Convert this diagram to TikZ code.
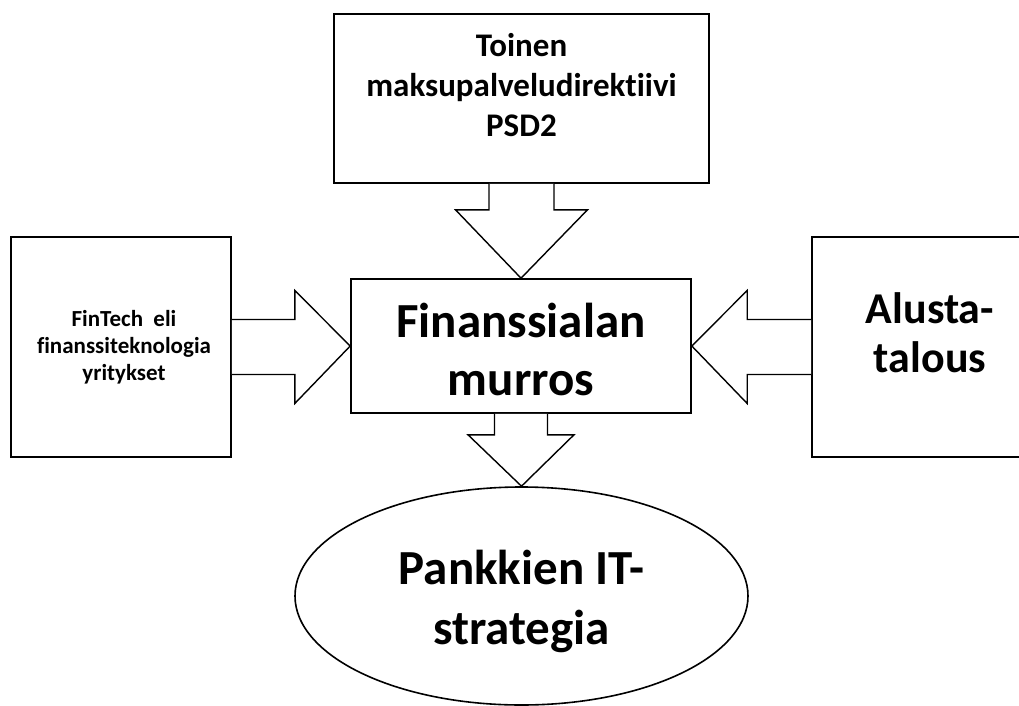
\documentclass[tikz,border=0pt]{standalone}
\usepackage{fontspec}
\setmainfont{Carlito}[RawFeature={-liga;-clig;-dlig}]
\usetikzlibrary{calc,shapes.geometric}
\begin{document}
\begin{tikzpicture}[x=1pt,y=-1pt,
  box/.style={draw=black,line width=1.6pt,fill=white,rectangle,inner sep=0pt},
  oval/.style={draw=black,line width=1.6pt,fill=white,ellipse,inner sep=0pt},
  blockarrow/.style={draw=black,line width=1.4pt,fill=white,line join=miter},
  txt/.style={align=center,font=\bfseries,inner sep=0pt}]
\useasboundingbox (0,0) rectangle (1019,706);
\clip (0,0) rectangle (1019,706);
% boxes
\node[box,minimum width=375pt,minimum height=169pt] (top) at (521.5,98.5) {};
\node[box,minimum width=340pt,minimum height=134pt] (mid) at (521,346) {};
\node[box,minimum width=220pt,minimum height=220pt] (left) at (121,347) {};
\node[box,minimum width=220pt,minimum height=220pt] (right) at (922,347) {};
\node[oval,minimum width=453pt,minimum height=218pt] (ell) at (521.5,596) {};
% block arrows
\draw[blockarrow] ($(top.south)+(-32.5,0)$) -- ++(0,26) -- ++(-33.5,0) -- (mid.north)
  -- ($(top.south)+(66,26)$) -- ++(-33.5,0) -- ($(top.south)+(32.5,0)$);
\draw[blockarrow] ($(left.east)+(0,-27.5)$) -- ++(63,0) -- ++(0,-29) -- (mid.west)
  -- ($(left.east)+(63,56.5)$) -- ++(0,-29) -- ($(left.east)+(0,27.5)$);
\draw[blockarrow] ($(right.west)+(0,-27.5)$) -- ++(-64,0) -- ++(0,-29) -- (mid.east)
  -- ($(right.west)+(-64,56.5)$) -- ++(0,-29) -- ($(right.west)+(0,27.5)$);
\draw[blockarrow] ($(mid.south)+(-26.5,0)$) -- ++(0,21) -- ++(-26.5,0) -- (ell.north)
  -- ($(mid.south)+(53,21)$) -- ++(-26.5,0) -- ($(mid.south)+(26.5,0)$);
% texts
\node[txt,font=\fontsize{33}{40}\selectfont\bfseries] (toptext) at ($(top.center)+(0,-13)$)
  {Toinen\\maksupalveludirektiivi\\PSD2};
\node[txt,font=\fontsize{49}{58}\selectfont\bfseries] (midtext) at ($(mid.center)+(0,3)$)
  {Finanssialan\\murros};
\node[txt,font=\fontsize{23}{27}\selectfont\bfseries] (lefttext) at ($(left.center)+(3,0)$)
  {FinTech\ \ eli\\finanssiteknologia\\yritykset};
\node[txt,font=\fontsize{44}{49}\selectfont\bfseries] (righttext) at ($(right.center)+(8,-14)$)
  {Alusta-\\talous};
\node[txt,font=\fontsize{49}{60}\selectfont\bfseries] (elltext) at ($(ell.center)+(0,5)$)
  {Pankkien IT-\\strategia};
\end{tikzpicture}
\end{document}
